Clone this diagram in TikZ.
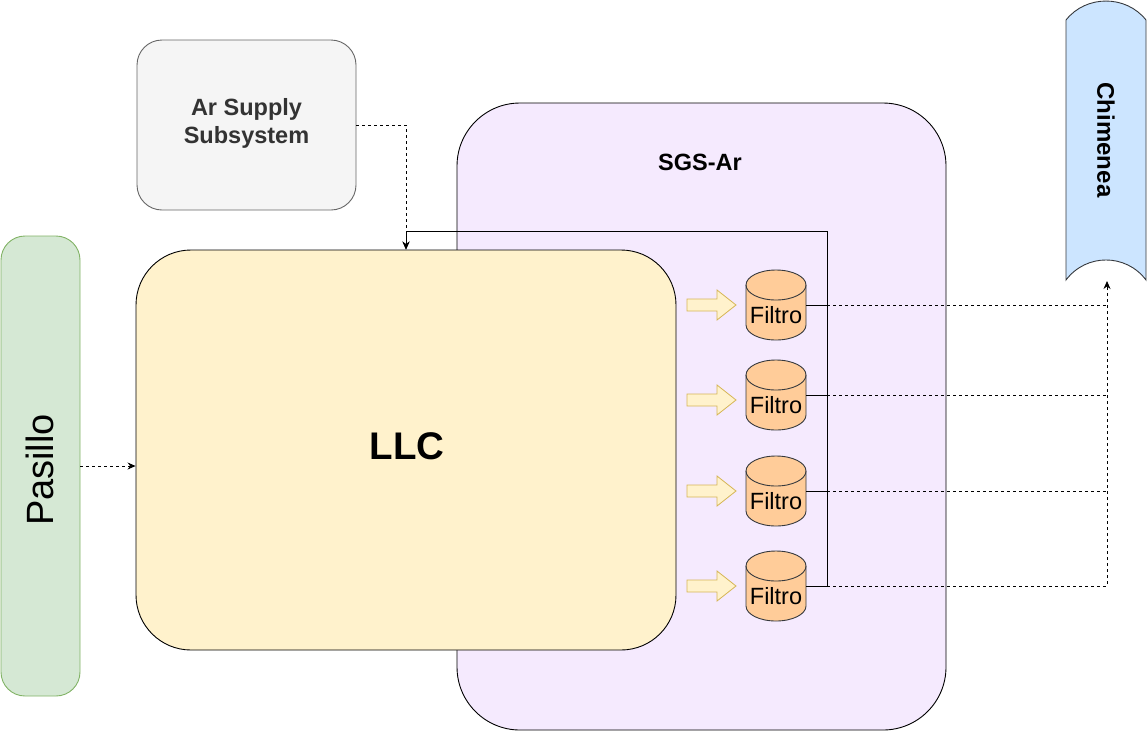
\documentclass[tikz,border=0pt]{standalone}
\usepackage{fontspec}
\setmainfont{Liberation Sans}
\usetikzlibrary{arrows.meta}
\definecolor{llcfill}{HTML}{FFF2CC}
\definecolor{sgsfill}{HTML}{F5EAFE}
\definecolor{pasfill}{HTML}{D5E8D4}
\definecolor{pasline}{HTML}{82B366}
\definecolor{arfill}{HTML}{F5F5F5}
\definecolor{arline}{HTML}{666666}
\definecolor{artext}{HTML}{333333}
\definecolor{chimfill}{HTML}{CCE5FF}
\definecolor{darkline}{HTML}{36393D}
\definecolor{filfill}{HTML}{FFCC99}
\definecolor{arrline}{HTML}{D6B656}
\begin{document}
\begin{tikzpicture}[x=1pt,y=-1pt,line width=0.9pt,
  box/.style={draw,rectangle,inner sep=0pt},
  dashln/.style={dash pattern=on 3pt off 3pt,line width=0.8pt},
  tipend/.style={-{Stealth[length=8pt,width=7pt]}},
  bigb/.style={font=\fontsize{23.5}{28}\selectfont\bfseries},
  filtxt/.style={font=\fontsize{23.5}{26}\selectfont,inner sep=0pt},
  hollow/.style={draw=arrline,fill=llcfill,line width=0.8pt}]
\useasboundingbox (0,0) rectangle (1148,732);
% SGS-Ar container
\node[box,fill=sgsfill,rounded corners=63pt,minimum width=489pt,minimum height=627pt] (sgs) at (701.5,416.5) {};
\node[bigb] (sgslbl) at (700,162) {SGS-Ar};
% Ar Supply
\node[box,draw=arline,fill=arfill,rounded corners=25pt,minimum width=219pt,minimum height=170pt] (ar) at (246.5,125) {};
\node[bigb,text=artext,align=center] (arlbl) at (246.5,123) {Ar Supply\\Subsystem};
% Pasillo
\node[box,draw=pasline,fill=pasfill,rounded corners=24pt,minimum width=79pt,minimum height=460pt] (pas) at (40.5,466) {};
\node[rotate=90,font=\fontsize{38}{40}\selectfont] (paslbl) at (40,470) {Pasillo};
% LLC
\node[box,fill=llcfill,rounded corners=55pt,minimum width=540pt,minimum height=400pt] (llc) at (406,450) {};
\node[font=\fontsize{38.5}{42}\selectfont\bfseries] (llclbl) at (407,446) {LLC};
% Chimenea
\draw[draw=darkline,fill=chimfill] (1066,20) -- (1066,280) .. controls (1086,253.3) and (1126,253.3) .. (1146,280) -- (1146,20) .. controls (1126,-5.3) and (1086,-5.3) .. (1066,20) -- cycle;
\coordinate (chimbot) at (1107,281);
\node[rotate=-90,font=\fontsize{24}{28}\selectfont\bfseries] (chimlbl) at (1106,140) {Chimenea};
% Filters and hollow arrows
\foreach \i/\cy/\ay in {1/305/305,2/395/400,3/491/491,4/586/586}{
  \draw[hollow] (687,\ay-6) -- (717,\ay-6) -- (717,\ay-15) -- (736,\ay) -- (717,\ay+15) -- (717,\ay+6) -- (687,\ay+6) -- cycle;
  \draw[draw=darkline,fill=filfill] (746,\cy-20) -- (746,\cy+20) arc[start angle=180,end angle=360,x radius=30pt,y radius=15pt] -- (806,\cy-20) arc[start angle=0,end angle=180,x radius=30pt,y radius=15pt] -- cycle;
  \draw[draw=darkline] (746,\cy-20) arc[start angle=180,end angle=360,x radius=30pt,y radius=15pt];
  \node[minimum width=60pt,minimum height=70pt,inner sep=0pt] (f\i) at (776,\cy) {};
  \node[filtxt] (ft\i) at (776,\cy+10) {Filtro};
  \coordinate (j\i) at (827,\cy);
  \coordinate (k\i) at (1107,\cy);
}
\coordinate (topr) at (827,231);
\coordinate (topl) at (406,231);
% solid return connectors
\draw (f1.east) -- (j1);
\draw (f2.east) -- (j2);
\draw (f3.east) -- (j3);
\draw[tipend] (f4.east) -- (j4) -- (topr) -- (topl) -- (llc.north);
% dashed connectors to Chimenea
\draw[dashln] (j1) -- (k1);
\draw[dashln] (j2) -- (k2);
\draw[dashln] (j3) -- (k3);
\draw[dashln,tipend] (j4) -- (k4) -- (chimbot);
% Ar Supply to LLC
\coordinate (arc1) at (406,125);
\draw[dashln,tipend] (ar.east) -- (arc1) -- (llc.north);
% Pasillo to LLC
\draw[dashln,tipend] (pas.east) -- (llc.west |- pas.east);
\end{tikzpicture}
\end{document}
